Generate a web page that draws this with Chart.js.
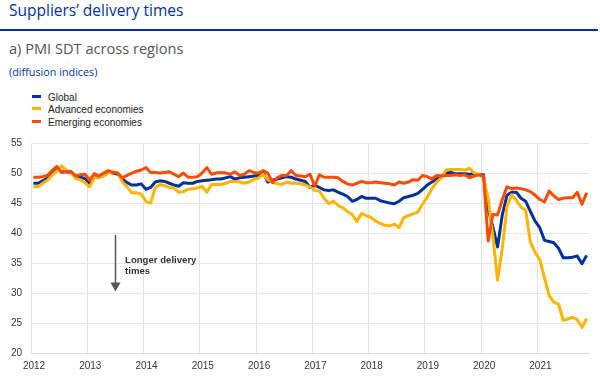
<!DOCTYPE html>
<html>
<head>
<meta charset="utf-8">
<title>Suppliers' delivery times</title>
<script src="https://cdn.jsdelivr.net/npm/chart.js@4.4.1/dist/chart.umd.min.js"></script>
<style>
  body { margin: 0; width: 600px; height: 379px; position: relative; background: #fff; overflow: hidden; }
  .title { position: absolute; left: 9px; top: 0px; font: 15.5px/20px "Open Sans", sans-serif; color: #003299; white-space: nowrap; }
  .rule { position: absolute; left: 0; top: 29px; width: 598px; height: 2px; background: #003299; }
  .sub { position: absolute; left: 9px; top: 38px; font: 14.6px/20px "Open Sans", sans-serif; color: #555; white-space: nowrap; }
  .unit { position: absolute; left: 9px; top: 65px; font: 10.8px/14px "Open Sans", sans-serif; color: #003299; white-space: nowrap; }
  #legend { position: absolute; left: 32px; top: 91.5px; font: 10px/12.7px "Liberation Sans", Arial, sans-serif; color: #222; }
  #legend div { white-space: nowrap; }
  #legend span { display: inline-block; width: 9px; height: 3px; margin-right: 7px; vertical-align: 3px; }
  #chart { position: absolute; left: 0; top: 128px; }
</style>
</head>
<body>
<div class="title">Suppliers’ delivery times</div>
<div class="rule"></div>
<div class="sub">a) PMI SDT across regions</div>
<div class="unit">(diffusion indices)</div>
<div id="legend"></div>
<canvas id="chart" width="600" height="251"></canvas>
<script>
// monthly, Jan 2012 - Nov 2021
const years = ["2012", "2013", "2014", "2015", "2016", "2017", "2018", "2019", "2020", "2021"];
const months = years.flatMap((yr) =>
  ["01", "02", "03", "04", "05", "06", "07", "08", "09", "10", "11", "12"].map((m) => yr + "-" + m)
).slice(0, 119);

const seriesNames = ["Global", "Advanced economies", "Emerging economies"];
const seriesColors = ["#003299", "#FFB400", "#FF4B00"];

const globalPmi = [
  48.3, 48.3, 48.7, 49.1, 49.8, 50.9, 50.2, 50.2, 50.1, 49.5, 49.3, 49.1,
  48.3, 49.5, 49.3, 49.7, 50.2, 50.0, 49.8, 49.0, 48.4, 48.0, 48.0, 48.2,
  47.3, 47.6, 48.5, 48.7, 48.6, 48.3, 48.0, 47.8, 48.4, 48.3, 48.3, 48.6,
  48.7, 48.8, 48.9, 49.0, 49.0, 49.2, 49.4, 49.0, 49.2, 49.3, 49.4, 49.5,
  49.6, 50.1, 48.5, 48.8, 49.0, 49.2, 49.4, 49.3, 49.0, 48.8, 48.6, 47.6,
  48.0, 47.6, 47.2, 47.1, 47.2, 46.8, 46.5, 46.1, 45.3, 45.6, 46.1, 45.8,
  45.8, 45.8, 45.4, 45.2, 45.0, 44.9, 45.3, 45.9, 46.1, 46.3, 46.6, 47.3,
  48.0, 48.5, 49.0, 49.5, 50.0, 50.1, 49.9, 49.9, 49.9, 49.8, 49.9, 49.7,
  49.7, 44.0, 41.0, 37.7, 43.0, 46.3, 46.8, 46.8, 45.8, 45.3, 43.6, 42.0,
  40.9, 38.8, 38.6, 38.4, 37.5, 35.9, 35.9, 36.0, 36.2, 34.9, 36.3
];
const advancedPmi = [
  47.7, 47.7, 48.3, 48.8, 49.6, 50.3, 51.2, 50.5, 50.1, 49.1, 48.9, 48.4,
  47.7, 49.2, 49.3, 49.5, 50.0, 50.2, 50.0, 48.5, 47.7, 46.7, 46.7, 46.5,
  45.3, 45.0, 47.6, 48.1, 47.9, 47.6, 47.5, 46.8, 46.9, 47.3, 47.4, 47.5,
  47.8, 46.8, 48.1, 48.1, 48.1, 48.3, 48.6, 48.6, 48.5, 48.3, 48.5, 48.9,
  49.2, 49.8, 48.9, 48.5, 48.2, 48.1, 48.5, 48.3, 48.3, 48.2, 48.0, 47.7,
  47.1, 47.0, 45.8, 44.9, 45.3, 44.6, 44.2, 43.6, 43.1, 41.9, 43.3, 42.9,
  42.6, 42.0, 41.6, 41.3, 41.2, 41.5, 40.9, 42.6, 42.9, 43.2, 43.5, 44.8,
  46.0, 47.4, 48.5, 49.2, 50.5, 50.6, 50.6, 50.6, 50.5, 50.8, 50.0, 49.8,
  49.2, 45.8, 39.5, 32.2, 37.5, 44.3, 46.4, 45.5, 44.3, 43.8, 38.5, 36.8,
  35.6, 32.6, 29.6, 28.5, 28.2, 25.5, 25.7, 26.0, 25.6, 24.3, 25.8
];
const emergingPmi = [
  49.3, 49.3, 49.4, 49.6, 50.4, 51.1, 50.1, 50.2, 50.3, 49.5, 49.7, 49.8,
  48.8, 49.9, 49.5, 50.0, 50.4, 50.1, 50.0, 49.2, 49.6, 50.0, 50.3, 50.5,
  50.9, 50.1, 50.1, 50.0, 50.1, 50.2, 49.8, 49.4, 50.0, 49.3, 49.3, 49.4,
  50.0, 50.9, 49.8, 50.0, 50.1, 50.0, 49.8, 50.2, 49.6, 49.8, 50.4, 50.1,
  50.0, 50.4, 50.0, 48.4, 49.2, 49.6, 49.6, 50.4, 49.6, 49.5, 49.4, 49.8,
  47.8, 49.7, 49.3, 49.3, 49.3, 49.2, 48.6, 48.2, 48.0, 48.3, 48.6, 48.4,
  48.4, 48.5, 48.4, 48.3, 48.2, 48.0, 48.5, 48.3, 48.5, 48.9, 48.8, 49.6,
  49.4, 49.0, 49.6, 49.5, 49.6, 49.6, 49.7, 49.6, 49.7, 49.2, 49.5, 49.7,
  49.5, 38.7, 43.1, 43.0, 45.6, 47.7, 47.4, 47.5, 47.4, 47.2, 46.9, 46.3,
  45.6, 45.2, 47.0, 46.2, 45.6, 45.8, 45.9, 45.9, 46.8, 44.8, 46.7
];
const yTicks = [20, 25, 30, 35, 40, 45, 50, 55];

// points sit in the middle of their month
const toPoints = (vals) => vals.map((v, i) => ({ x: i + 0.5, y: v }));

// html legend
document.getElementById("legend").innerHTML = seriesNames
  .map((n, i) => '<div><span style="background:' + seriesColors[i] + '"></span>' + n + "</div>")
  .join("");

const arrowNote = {
  id: "arrowNote",
  afterDatasetsDraw(chart) {
    const { ctx, scales: { x, y } } = chart;
    const ax = Math.round(x.getPixelForValue(17.9)) + 0.5;
    const top = y.getPixelForValue(39.7);
    const tip = y.getPixelForValue(30.3);
    ctx.save();
    ctx.strokeStyle = "#555";
    ctx.fillStyle = "#555";
    ctx.lineWidth = 1.5;
    ctx.beginPath();
    ctx.moveTo(ax, top);
    ctx.lineTo(ax, tip - 8);
    ctx.stroke();
    ctx.beginPath();
    ctx.moveTo(ax - 5, tip - 9);
    ctx.lineTo(ax + 5, tip - 9);
    ctx.lineTo(ax, tip);
    ctx.closePath();
    ctx.fill();
    ctx.fillStyle = "#333";
    ctx.font = 'bold 9.6px "Liberation Sans", Arial, sans-serif';
    ctx.textBaseline = "alphabetic";
    const tx = x.getPixelForValue(20.05);
    ctx.fillText("Longer delivery", tx, y.getPixelForValue(34.97));
    ctx.fillText("times", tx, y.getPixelForValue(33.16));
    ctx.restore();
  },
};

const tickFont = { family: '"Liberation Sans", Arial, sans-serif', size: 10 };

new Chart(document.getElementById("chart").getContext("2d"), {
  type: "line",
  data: {
    datasets: [
      { label: seriesNames[0], data: toPoints(globalPmi), borderColor: seriesColors[0], order: 2 },
      { label: seriesNames[1], data: toPoints(advancedPmi), borderColor: seriesColors[1], order: 1 },
      { label: seriesNames[2], data: toPoints(emergingPmi), borderColor: seriesColors[2], order: 0 },
    ],
  },
  options: {
    responsive: false,
    animation: false,
    events: [],
    layout: { padding: { top: 13, right: 11, left: 0, bottom: 0 } },
    elements: {
      point: { radius: 0 },
      line: { borderWidth: 3, tension: 0, borderJoinStyle: "round" },
    },
    plugins: { legend: { display: false }, tooltip: { enabled: false } },
    scales: {
      x: {
        type: "linear",
        min: 0,
        max: months.length,
        afterFit: (s) => { s.height = 25.7; },
        grid: { color: "#e3e3e3", drawTicks: false },
        border: { color: "#dcdcdc" },
        ticks: {
          stepSize: 12,
          includeBounds: false,
          autoSkip: false,
          maxRotation: 0,
          padding: 7,
          labelOffset: 3,
          color: "#333",
          font: tickFont,
          callback: (v) => years[v / 12],
        },
      },
      y: {
        min: yTicks[0],
        max: yTicks[yTicks.length - 1],
        afterFit: (s) => { s.width = 31; },
        afterBuildTicks: (s) => { s.ticks = yTicks.map((v) => ({ value: v })); },
        grid: { color: "#e6e6e6", drawTicks: false },
        border: { display: false },
        ticks: { padding: 9, color: "#333", font: tickFont },
      },
    },
  },
  plugins: [arrowNote],
});
</script>
</body>
</html>
